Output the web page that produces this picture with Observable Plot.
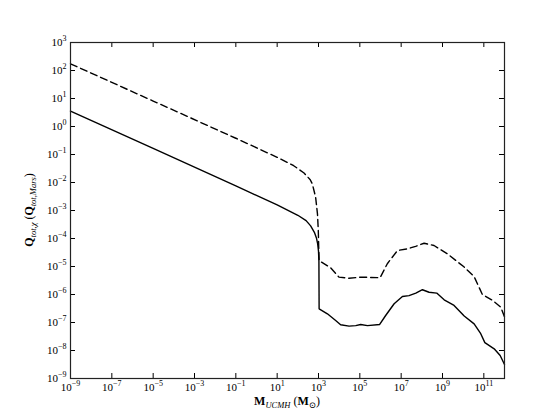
<!DOCTYPE html>
<html><head><meta charset="utf-8">
<script src="https://cdn.jsdelivr.net/npm/d3@7"></script>
<script src="https://cdn.jsdelivr.net/npm/@observablehq/plot@0.6"></script>
<style>body{margin:0;background:#fff} #chart{width:560px;height:420px}</style>
</head><body><div id="chart"></div>
<script>
// log10 values
const solidLogM = [-9, -5, -1, 1, 2, 2.4, 2.62, 2.8, 2.9, 2.96, 3.0, 3.02, 3.03, 3.43, 3.83, 4.07, 4.48, 4.8, 5.04, 5.37, 5.96, 6.25, 6.66, 7.06, 7.38, 7.71, 8.03, 8.35, 8.72, 9.08, 9.56, 10.05, 10.53, 10.85, 11.05, 11.5, 11.79, 12.0];
const solidLogQ = [0.55, -0.78, -2.12, -2.80, -3.17, -3.36, -3.55, -3.78, -3.98, -4.19, -4.45, -4.8, -6.51, -6.69, -6.93, -7.08, -7.13, -7.11, -7.07, -7.11, -7.07, -6.75, -6.33, -6.07, -6.04, -5.95, -5.83, -5.92, -5.95, -6.19, -6.39, -6.77, -7.05, -7.40, -7.72, -7.94, -8.18, -8.5];
const dashedLogM = [-9, -5, -1, 1, 1.8, 2.3, 2.6, 2.7, 2.86, 2.95, 2.99, 3.01, 3.03, 3.59, 3.99, 4.48, 5.04, 5.98, 6.33, 6.82, 7.30, 7.7, 8.11, 8.59, 9.24, 10.05, 10.53, 10.93, 11.42, 11.82, 12.0];
const dashedLogQ = [2.24, 0.91, -0.42, -1.10, -1.40, -1.66, -1.9, -2.05, -2.52, -3.12, -3.71, -4.3, -4.79, -5.05, -5.38, -5.42, -5.38, -5.40, -4.90, -4.43, -4.37, -4.28, -4.17, -4.25, -4.55, -5.02, -5.36, -6.0, -6.21, -6.45, -6.8];
const xTickExp = [-9, -7, -5, -3, -1, 1, 3, 5, 7, 9, 11];
const yTickExp = [-9, -8, -7, -6, -5, -4, -3, -2, -1, 0, 1, 2, 3];

const solid = solidLogM.map((m, i) => ({M: 10 ** m, Q: 10 ** solidLogQ[i]}));
const dashed = dashedLogM.map((m, i) => ({M: 10 ** m, Q: 10 ** dashedLogQ[i]}));
const xMajor = xTickExp.map(e => 10 ** e);
const yMajor = yTickExp.map(e => 10 ** e);
const yMinor = d3.scaleLog().domain([1e-9, 1e3]).ticks().filter(v => !yMajor.some(m => Math.abs(v / m - 1) < 1e-6));

const W = 560, H = 420, mL = 70, mR = 56, mT = 42, mB = 42;
const pw = W - mL - mR, ph = H - mT - mB;
const fmt = v => "10|" + Math.round(Math.log10(v));
const font = "'Liberation Serif', 'DejaVu Serif', serif";

const chart = Plot.plot({
  width: W, height: H, marginLeft: mL, marginRight: mR, marginTop: mT, marginBottom: mB,
  x: {type: "log", domain: [1e-9, 1e12]},
  y: {type: "log", domain: [1e-9, 1e3]},
  style: {fontFamily: font, fontSize: "11px", background: "white", color: "black"},
  marks: [
    Plot.line(dashed, {x: "M", y: "Q", stroke: "black", strokeWidth: 1.4, strokeDasharray: "7,4"}),
    Plot.line(solid, {x: "M", y: "Q", stroke: "black", strokeWidth: 1.4}),
    Plot.ruleX(xMajor, {insetTop: ph - 5, stroke: "black", strokeWidth: 1}),
    Plot.ruleX(xMajor, {insetBottom: ph - 5, stroke: "black", strokeWidth: 1}),
    Plot.ruleY(yMajor, {insetRight: pw - 5, stroke: "black", strokeWidth: 1}),
    Plot.ruleY(yMajor, {insetLeft: pw - 5, stroke: "black", strokeWidth: 1}),
    Plot.ruleY(yMinor, {insetRight: pw - 2.5, stroke: "black", strokeWidth: 0.8}),
    Plot.ruleY(yMinor, {insetLeft: pw - 2.5, stroke: "black", strokeWidth: 0.8}),
    Plot.frame({stroke: "#222", strokeWidth: 1.2}),
    Plot.axisX({ticks: xMajor, tickSize: 0, tickPadding: 5, tickFormat: fmt, label: null}),
    Plot.axisY({ticks: yMajor, tickSize: 0, tickPadding: 4, tickFormat: fmt, label: null})
  ]
});

// Rewrite "10|e" into 10 with superscript exponent
chart.querySelectorAll("text").forEach(t => {
  const s = t.textContent;
  if (!s.includes("|")) return;
  const [base, ex] = s.split("|");
  t.textContent = "";
  const b = document.createElementNS("http://www.w3.org/2000/svg", "tspan");
  b.textContent = base;
  const e = document.createElementNS("http://www.w3.org/2000/svg", "tspan");
  e.textContent = ex.replace("-", "\u2212");
  e.setAttribute("font-size", "8px");
  e.setAttribute("dy", "-5");
  t.appendChild(b); t.appendChild(e);
});

const svg = d3.select(chart);
function richLabel(g, parts) {
  const t = g.append("text").attr("text-anchor", "middle").attr("font-family", font).attr("font-size", 12).attr("fill", "black");
  let shift = 0;
  parts.forEach(([txt, style]) => {
    const ts = t.append("tspan").text(txt);
    if (style.includes("b")) ts.attr("font-weight", "bold");
    if (style.includes("i")) ts.attr("font-style", "italic");
    if (style.includes("s")) { ts.attr("font-size", 8.5).attr("dy", 3 - shift); shift = 3; }
    else if (shift) { ts.attr("dy", -shift); shift = 0; }
  });
  return t;
}
const gx = svg.append("g").attr("transform", `translate(${mL + pw / 2},405)`);
richLabel(gx, [["M", "b"], ["UCMH", "is"], [" (", ""], ["M", "b"], ["\u2299", "s"], [")", ""]]);
const gy = svg.append("g").attr("transform", `translate(33,${mT + ph / 2}) rotate(-90)`);
richLabel(gy, [["Q", "b"], ["tot,\u03C7", "is"], [" (", ""], ["Q", "b"], ["tot,Mars", "is"], [")", ""]]);

document.getElementById("chart").appendChild(chart);
</script>
</body></html>
